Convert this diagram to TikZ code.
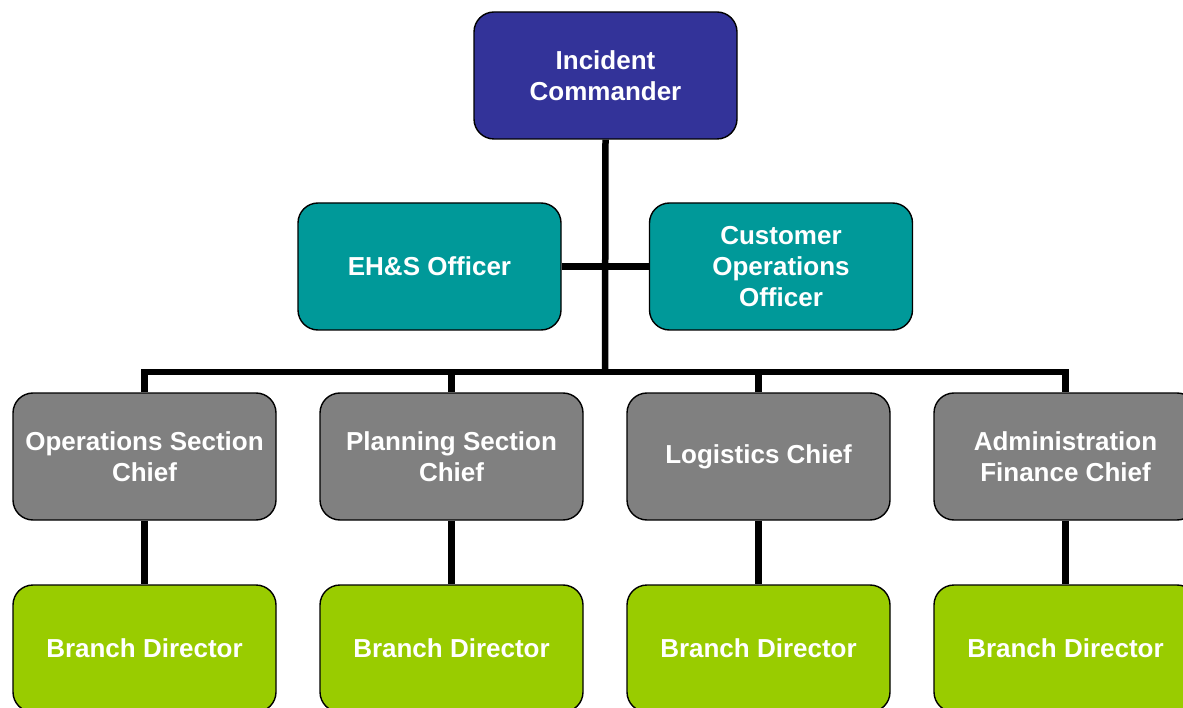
\documentclass[tikz,border=0pt]{standalone}
\usepackage{fontspec}
\setmainfont{Liberation Sans}
\usetikzlibrary{backgrounds}
\definecolor{icblue}{HTML}{333399}
\definecolor{officerteal}{HTML}{009999}
\definecolor{chiefgray}{HTML}{808080}
\definecolor{branchgreen}{HTML}{99CC00}
\begin{document}
\begin{tikzpicture}[x=1pt,y=-1pt,
  box/.style={draw=black, line width=1.4pt, rounded corners=20pt,
    minimum width=263pt, minimum height=127pt, inner sep=0pt,
    align=center, text=white,
    font=\fontsize{26}{31}\selectfont\bfseries},
  commander/.style={box, fill=icblue},
  officer/.style={box, fill=officerteal},
  chief/.style={box, fill=chiefgray},
  branch/.style={box, fill=branchgreen},
  link/.style={draw=black, line width=6.5pt, line join=miter}]
\useasboundingbox (0,0) rectangle (1183,708);
\clip (0,0) rectangle (1183,708);

% command level
\node[commander] (ic) at (605.5,75.5) {Incident\\Commander};
% staff officers
\node[officer] (ehs) at (429.5,266.5) {EH\&S Officer};
\node[officer] (coo) at (781,266.5) {Customer\\Operations\\Officer};
% section chiefs
\node[chief] (ops) at (144.5,456.5) {Operations Section\\Chief};
\node[chief] (plan) at (451.5,456.5) {Planning Section\\Chief};
\node[chief] (log) at (758.5,456.5) {Logistics Chief};
\node[chief] (adm) at (1065.5,456.5) {Administration\\Finance Chief};
% branch directors
\node[branch] (b1) at (144.5,648.5) {Branch Director};
\node[branch] (b2) at (451.5,648.5) {Branch Director};
\node[branch] (b3) at (758.5,648.5) {Branch Director};
\node[branch] (b4) at (1065.5,648.5) {Branch Director};

\coordinate (bar) at (605,372);

\begin{scope}[on background layer]
  \draw[link] (ic.south) -- (bar);
  \draw[link] (ehs.east) -- (coo.west);
  \draw[link] (ops.north) |- (bar) -| (adm.north);
  \draw[link] (plan.north) -- (plan.north |- bar);
  \draw[link] (log.north) -- (log.north |- bar);
  \draw[link] (ops.south) -- (b1.north);
  \draw[link] (plan.south) -- (b2.north);
  \draw[link] (log.south) -- (b3.north);
  \draw[link] (adm.south) -- (b4.north);
\end{scope}
\end{tikzpicture}
\end{document}
